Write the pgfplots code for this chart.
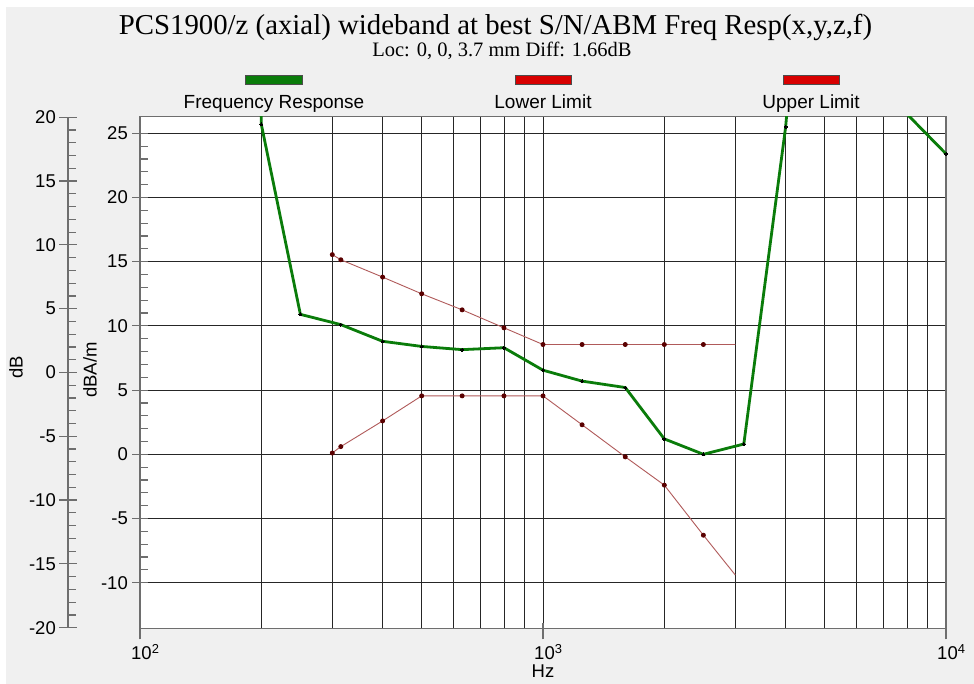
\documentclass[border=0pt]{standalone}
\usepackage{fontspec}
\setmainfont{Liberation Sans}
\newfontfamily\seriffont{Liberation Serif}
\usepackage{pgfplots}
\pgfplotsset{compat=1.18}
\definecolor{bg}{HTML}{F0F0F0}
\definecolor{frgreen}{HTML}{0A7C0A}
\definecolor{limline}{HTML}{B05A5A}
\definecolor{limmark}{HTML}{5A0000}
\definecolor{swred}{HTML}{D80000}
\definecolor{axgray}{HTML}{6E6E6E}
\begin{document}
\begin{tikzpicture}[x=1pt,y=1pt]
\path[use as bounding box] (0,0) rectangle (974,684);
\fill[bg] (6,0) rectangle (974,677);
% outer dB axis
\begin{axis}[at={(68pt,56.3pt)}, anchor=south west, scale only axis,
  width=20pt, height=510.4pt,
  ymin=-20, ymax=20, xmin=0, xmax=1,
  hide x axis, axis y line*=left,
  axis line style={axgray, line width=1.5pt},
  ytick={-20,-15,...,20}, minor y tick num=4,
  tick align=inside, major tick length=18pt, minor tick length=8pt,
  every major y tick/.append style={xshift=-9pt},
  tick style={axgray, line width=1.2pt},
  /pgf/number format/assume math mode=true,
  yticklabel style={font=\fontsize{18.5}{20}\selectfont, anchor=east, inner sep=0pt, xshift=-12pt},
  ylabel={dB},
  ylabel style={at={(axis description cs:-2.6,0.51)}, anchor=center, rotate=0, font=\fontsize{18.5}{20}\selectfont},
]
\end{axis}
% inner dBA/m axis
\begin{axis}[at={(140pt,55.7pt)}, anchor=south west, scale only axis,
  width=806pt, height=511.7pt,
  xmode=log, xmin=100, xmax=10000, ymin=-13.55, ymax=26.30,
  axis background/.style={fill=white},
  xtick={100,1000,10000},
  xticklabels={10\textsuperscript{2},10\textsuperscript{3},10\textsuperscript{4}},
  ytick={-10,-5,...,25}, minor y tick num=4,
  xmajorgrids, xminorgrids, ymajorgrids,
  major grid style={black!85, line width=0.9pt},
  minor grid style={black!85, line width=0.9pt},
  axis line style={axgray, line width=1.5pt},
  tick align=inside, major tick length=16pt, minor tick length=8pt,
  every major y tick/.append style={xshift=-8pt},
  every major x tick/.append style={yshift=-11pt},
  every minor x tick/.append style={draw=none},
  tick pos=left,
  tick style={axgray, line width=1.2pt},
  /pgf/number format/assume math mode=true,
  yticklabel style={font=\fontsize{18.5}{20}\selectfont, anchor=east, inner sep=0pt, xshift=-12pt},
  xticklabel style={font=\fontsize{18.5}{20}\selectfont, anchor=base west, inner sep=0pt, xshift=-9pt, yshift=-31pt},
  xlabel={Hz},
  xlabel style={at={(axis description cs:0.5,0)}, anchor=base, yshift=-49pt, font=\fontsize{18.5}{20}\selectfont},
  ylabel={dBA/m},
  ylabel style={at={(axis description cs:-0.062,0.505)}, anchor=center, font=\fontsize{18.5}{20}\selectfont},
]
\addplot[limline, line width=0.9pt, mark=*, mark size=2pt,
  mark options={fill=limmark, draw=limmark},
  mark indices={1,2,3,4,5,6,7,8,9,10,11}] coordinates {
  (300,0.1) (315,0.6) (400,2.6) (500,4.55) (630,4.55) (800,4.55)
  (1000,4.55) (1250,2.3) (1600,-0.2) (2000,-2.4) (2500,-6.3) (3000,-9.4)};
\addplot[limline, line width=0.9pt, mark=*, mark size=2pt,
  mark options={fill=limmark, draw=limmark},
  mark indices={1,2,3,4,5,6,7,8,9,10,11}] coordinates {
  (300,15.55) (315,15.15) (400,13.8) (500,12.5) (630,11.25) (800,9.85)
  (1000,8.55) (1250,8.55) (1600,8.55) (2000,8.55) (2500,8.55) (3000,8.55)};
\addplot[frgreen, line width=2.8pt, mark=*, mark size=1.5pt,
  mark options={fill=black, draw=black, line width=0pt}] coordinates {
  (190,60) (200,25.7) (250,10.9) (315,10.1) (400,8.8) (500,8.4) (630,8.15)
  (800,8.3) (1000,6.55) (1250,5.7) (1600,5.2) (2000,1.2) (2500,0.0)
  (3150,0.8) (4000,25.5) (5000,60) (6300,60) (8000,26.5) (10000,23.4)};
\end{axis}
% title
\node[font=\seriffont\fontsize{28.8}{30}\selectfont, anchor=base, inner sep=0pt] at (495.5,649) {PCS1900/z (axial) wideband at best S/N/ABM Freq Resp(x,y,z,f)};
\node[font=\seriffont\fontsize{20.5}{22}\selectfont, anchor=base, inner sep=0pt] at (502,627) {Loc: 0, 0, 3.7 mm Diff: 1.66dB};
% legend
\filldraw[fill=frgreen, draw=black!70, line width=0.8pt] (245.5,600) rectangle (302.5,608.5);
\filldraw[fill=swred, draw=black!70, line width=0.8pt] (515,600) rectangle (571,608.5);
\filldraw[fill=swred, draw=black!70, line width=0.8pt] (783,600) rectangle (839,608.5);
\node[font=\fontsize{19}{21}\selectfont, anchor=base, inner sep=0pt] at (274,575) {Frequency Response};
\node[font=\fontsize{19}{21}\selectfont, anchor=base, inner sep=0pt] at (543,575) {Lower Limit};
\node[font=\fontsize{19}{21}\selectfont, anchor=base, inner sep=0pt] at (811,575) {Upper Limit};
\end{tikzpicture}
\end{document}
